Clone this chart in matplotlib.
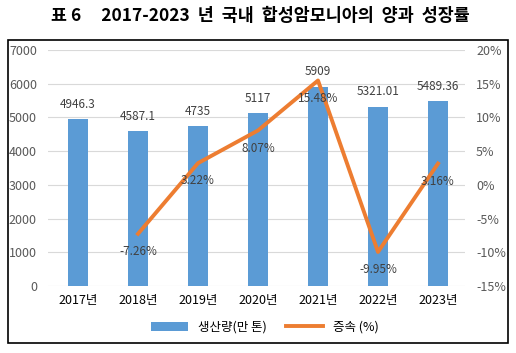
import numpy as np
import matplotlib.pyplot as plt
from matplotlib.patches import Rectangle

plt.rcParams['font.family'] = ['Noto Sans CJK KR', 'DejaVu Sans']

years = ["2017년", "2018년", "2019년", "2020년", "2021년", "2022년", "2023년"]
output = [4946.3, 4587.1, 4735, 5117, 5909, 5321.01, 5489.36]
output_labels = ["4946.3", "4587.1", "4735", "5117", "5909", "5321.01", "5489.36"]
growth = [np.nan, -7.26, 3.22, 8.07, 15.48, -9.95, 3.16]

blue = "#5B9BD5"
orange = "#ED7D31"
grey = "#595959"

fig = plt.figure(figsize=(5.16, 3.53), dpi=100)
fig.patches.append(Rectangle((8/516, 1-343/353), 500/516, 303/353, transform=fig.transFigure,
                             fill=False, edgecolor="black", linewidth=1.2))
fig.text(260/516, 1-16/353, "표 6     2017-2023  년  국내  합성암모니아의  양과  성장률",
         ha="center", va="center", fontsize=12.5, fontweight="bold")

ax = fig.add_axes([48/516, 1-286/353, 417/516, 236/353])
x = np.arange(len(years))
bars = ax.bar(x, output, width=0.32, color=blue, label="생산량(만 톤)", zorder=2)
ax.set_ylim(0, 7000)
ax.set_yticks(range(0, 7001, 1000))
ax.set_xlim(-0.5, 6.45)
ax.set_xticks(x)
ax.set_xticklabels(years, fontsize=9)
ax.tick_params(axis="y", colors=grey, labelsize=9, length=0, pad=8)
ax.tick_params(axis="x", length=0, pad=6)
ax.grid(axis="y", color="#D9D9D9", linewidth=0.8, zorder=0)
for s in ax.spines.values():
    s.set_visible(False)
for xi, v, t in zip(x, output, output_labels):
    ax.annotate(t, (xi, v), xytext=(0, 6), textcoords="offset points",
                ha="center", va="bottom", fontsize=8.5, color="#404040")

ax2 = ax.twinx()
line, = ax2.plot(x, growth, color=orange, linewidth=2.8, label="증속 (%)", zorder=3)
ax2.set_ylim(-15, 20)
ax2.set_yticks(range(-15, 21, 5))
ax2.set_yticklabels([f"{v}%" for v in range(-15, 21, 5)])
ax2.tick_params(axis="y", colors=grey, labelsize=9, length=0, pad=8)
for s in ax2.spines.values():
    s.set_visible(False)
for xi, g in zip(x, growth):
    if not np.isnan(g):
        ax2.annotate(f"{g:.2f}%", (xi, g), xytext=(0, -8), textcoords="offset points",
                     ha="center", va="top", fontsize=8.5, color="#404040")

fig.legend([bars, line], ["생산량(만 톤)", "증속 (%)"], loc="center",
           bbox_to_anchor=(265/516, 1-327/353), ncol=2, frameon=False,
           fontsize=9, handlelength=3.0, columnspacing=1.5)

fig.savefig("out.png", dpi=100)
